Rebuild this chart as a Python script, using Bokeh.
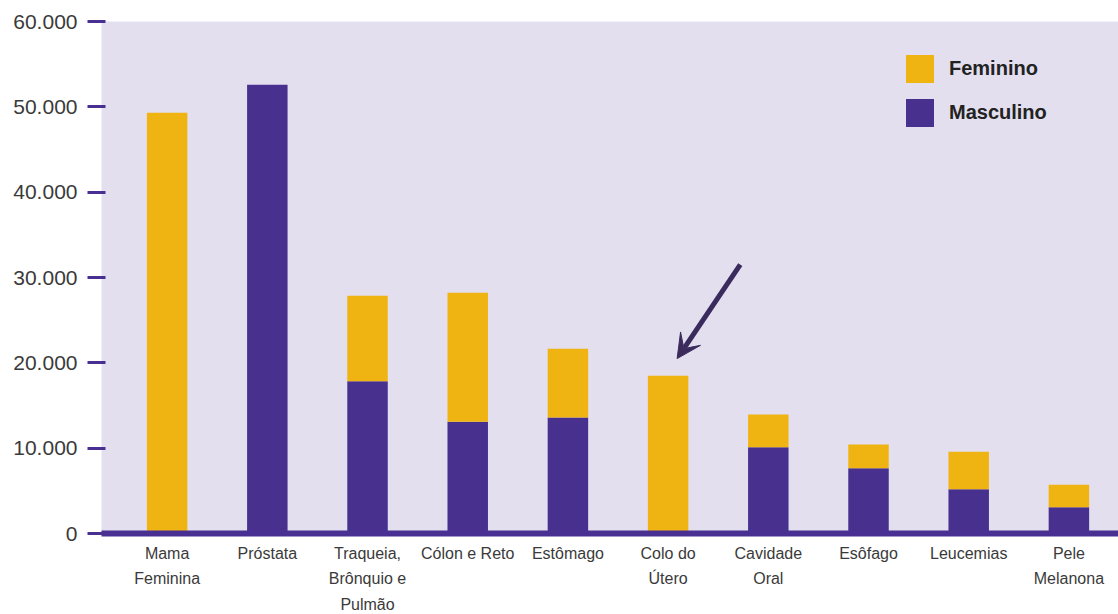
from bokeh.plotting import figure
from bokeh.models import (ColumnDataSource, Range1d, FixedTicker, Legend,
                          LegendItem, Arrow, VeeHead)
from bokeh.embed import file_html
from bokeh.resources import INLINE

# ---- data ----
categories = ["Mama\nFeminina", "Próstata", "Traqueia,\nBrônquio e\nPulmão",
              "Cólon e Reto", "Estômago", "Colo do\nÚtero", "Cavidade\nOral",
              "Esôfago", "Leucemias", "Pele\nMelanona"]
masculino = [0, 52600, 17850, 13100, 13600, 0, 10100, 7650, 5200, 3080]
feminino = [49300, 0, 10000, 15100, 8050, 18500, 3850, 2780, 4380, 2630]
y_ticks = [0, 10000, 20000, 30000, 40000, 50000, 60000]
y_tick_labels = ["0", "10.000", "20.000", "30.000", "40.000", "50.000", "60.000"]
series_labels = ["Feminino", "Masculino"]

# annotation arrow (data coordinates, pointing at "Colo do Útero")
arrow_tail = (5.72, 31500)
arrow_tip = (5.09, 20500)

# ---- style ----
YELLOW = "#F0B412"
PURPLE = "#48308F"
LAVENDER = "#E3DFEF"
AXIS_PURPLE = "#4A2F92"
TEXT = "#3a3a3a"
FONT = "'Liberation Sans', Arial, sans-serif"

x = list(range(len(categories)))
src = ColumnDataSource(dict(x=x, masculino=masculino, feminino=feminino))

p = figure(frame_width=1017, frame_height=512,
           x_range=Range1d(-0.655, 9.495), y_range=Range1d(0, 60000),
           output_backend="svg", toolbar_location=None,
           min_border_left=101, min_border_right=0, min_border_top=21,
           min_border_bottom=80)

p.background_fill_color = LAVENDER
p.border_fill_color = "white"
p.outline_line_color = None
p.xgrid.visible = False
p.ygrid.visible = False

rs = p.vbar_stack(["masculino", "feminino"], x="x", width=0.404, source=src,
                  color=[PURPLE, YELLOW], line_color=None)

# x axis
xa = p.xaxis[0]
xa.ticker = FixedTicker(ticks=x)
xa.major_label_overrides = {i: c for i, c in zip(x, categories)}
xa.axis_line_color = AXIS_PURPLE
xa.axis_line_width = 6
xa.major_tick_line_color = None
xa.minor_tick_line_color = None
xa.major_tick_out = 0
xa.major_tick_in = 0
xa.major_label_standoff = 11
xa.major_label_text_font = FONT
xa.major_label_text_font_size = "16px"
xa.major_label_text_color = TEXT
xa.major_label_text_line_height = 1.5

# y axis
ya = p.yaxis[0]
ya.ticker = FixedTicker(ticks=y_ticks)
ya.major_label_overrides = {t: l for t, l in zip(y_ticks, y_tick_labels)}
ya.axis_line_color = None
ya.major_tick_line_color = AXIS_PURPLE
ya.major_tick_line_width = 3
ya.major_tick_out = 14
ya.major_tick_in = 4
ya.minor_tick_line_color = None
ya.major_label_standoff = 10
ya.major_label_text_font = FONT
ya.major_label_text_font_size = "21px"
ya.major_label_text_color = TEXT

# legend
legend = Legend(items=[LegendItem(label=series_labels[0], renderers=[rs[1]]),
                       LegendItem(label=series_labels[1], renderers=[rs[0]])],
                location=(801, 403), orientation="vertical",
                glyph_width=35, glyph_height=35, spacing=9, padding=0,
                margin=0, label_standoff=12,
                label_text_font=FONT,
                label_text_font_style="bold", label_text_font_size="20px",
                label_text_color="#222222",
                background_fill_alpha=0, border_line_color=None)
p.add_layout(legend, "center")

# arrow
p.add_layout(Arrow(end=VeeHead(size=24, fill_color="#3B2A5C",
                               line_color="#3B2A5C", line_width=1),
                   x_start=arrow_tail[0], y_start=arrow_tail[1],
                   x_end=arrow_tip[0], y_end=arrow_tip[1],
                   line_color="#3B2A5C", line_width=5))

open("out.html", "w").write(file_html(p, INLINE))
